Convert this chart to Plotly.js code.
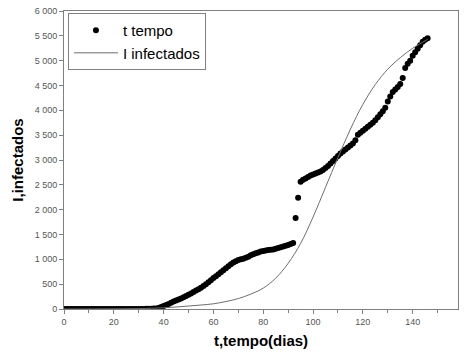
<!DOCTYPE html>
<html>
<head>
<meta charset="utf-8">
<script src="https://cdn.plot.ly/plotly-3.0.1.min.js"></script>
<style>html,body{margin:0;padding:0;background:#fff;}#chart{width:465px;height:353px;}</style>
</head>
<body>
<div id="chart"></div>
<script>
// Observed data (dots): day index and infected count
const dotDays = [];
for (let d = 0; d <= 146; d++) dotDays.push(d);
const dotValues = [
  0,0,0,0,0,0,0,0,0,0,
  0,0,0,0,0,0,0,0,0,0,
  0,0,0,0,0,0,0,0,0,0,
  0,0,2,3,4,6,8,12,20,40,
  60,80,100,125,150,170,190,210,235,260,
  285,310,340,370,400,430,465,500,540,580,
  625,660,700,740,780,820,860,900,935,960,
  985,1000,1010,1030,1050,1080,1100,1120,1140,1160,
  1170,1180,1190,1195,1200,1215,1230,1245,1260,1275,
  1290,1310,1330,1830,2240,2560,2600,2630,2660,2690,
  2710,2730,2750,2770,2800,2840,2880,2930,2980,3030,
  3080,3130,3170,3210,3250,3290,3330,3400,3510,3550,
  3590,3630,3670,3710,3750,3800,3860,3920,3980,4050,
  4180,4280,4370,4420,4470,4530,4650,4850,4940,5000,
  5100,5170,5240,5310,5380,5420,5450
];
// Model curve (line), read at selected days
const curveDays = [0,10,20,30,40,45,50,55,60,65,70,75,80,85,90,95,100,105,110,115,120,125,130,135,140,145,146];
const curveValues = [0,1,3,8,25,40,60,80,105,150,210,300,420,620,920,1320,1850,2450,3050,3620,4120,4520,4830,5060,5250,5400,5430];

const xTicks = [0,20,40,60,80,100,120,140,160];
const yTicks = [0,500,1000,1500,2000,2500,3000,3500,4000,4500,5000,5500,6000];

const traces = [
  {x: dotDays, y: dotValues, type: 'scatter', mode: 'markers', name: 't tempo',
   marker: {color: '#000', size: 6}},
  {x: curveDays, y: curveValues, type: 'scatter', mode: 'lines', name: 'I infectados',
   line: {color: '#6e6e6e', width: 1, shape: 'spline', smoothing: 1}}
];

const axisCommon = {
  showline: true, linecolor: '#808080', linewidth: 1, mirror: true,
  ticks: 'outside', tickcolor: '#808080', ticklen: 4, tickwidth: 1,
  showgrid: false, zeroline: false,
  tickfont: {family: 'Liberation Sans, Arial, sans-serif', size: 9, color: '#555'}
};

const layout = {
  width: 465, height: 353,
  margin: {l: 64, r: 7, t: 11, b: 44},
  paper_bgcolor: '#fff', plot_bgcolor: '#fff',
  separators: '. ',
  showlegend: true,
  legend: {x: 0.01, y: 0.993, xanchor: 'left', yanchor: 'top',
    bordercolor: '#808080', borderwidth: 1, bgcolor: '#fff',
    itemwidth: 44, tracegroupgap: 0,
    font: {family: 'Liberation Sans, Arial, sans-serif', size: 15, color: '#000'}},
  xaxis: Object.assign({}, axisCommon, {
    range: [0, 158.2], tickvals: xTicks, ticktext: xTicks.map(String),
    minor: {dtick: 10, tick0: 0, ticks: 'outside', ticklen: 3, tickcolor: '#808080'},
    title: {text: 't,tempo(dias)', standoff: 9,
      font: {family: 'Liberation Sans, Arial, sans-serif', size: 15, color: '#000', weight: 'bold'}}
  }),
  yaxis: Object.assign({}, axisCommon, {
    range: [0, 6000], tickvals: yTicks, tickformat: ',d',
    title: {text: 'I,infectados', standoff: 7,
      font: {family: 'Liberation Sans, Arial, sans-serif', size: 15, color: '#000', weight: 'bold'}}
  })
};

Plotly.newPlot('chart', traces, layout, {displayModeBar: false, staticPlot: true});
</script>
</body>
</html>
